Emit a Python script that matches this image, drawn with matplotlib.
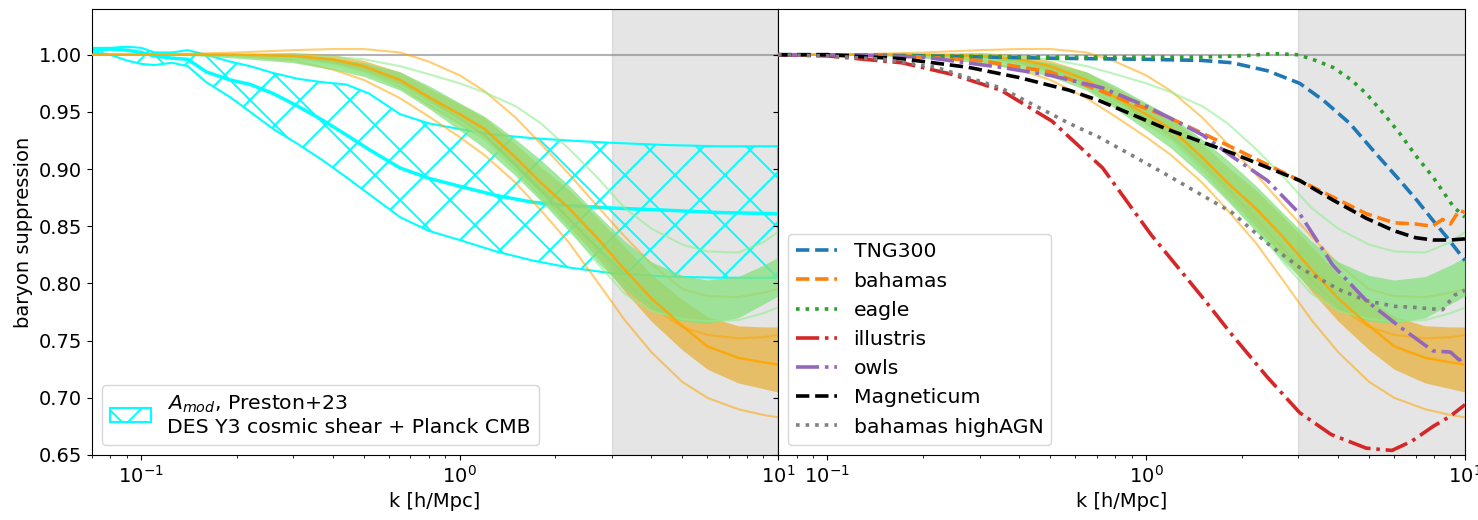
import numpy as np
import matplotlib
matplotlib.use('Agg')
import matplotlib.pyplot as plt
from matplotlib.backend_bases import GraphicsContextBase

# sparser hatch than the matplotlib default
_hatch_path = GraphicsContextBase.get_hatch_path
GraphicsContextBase.get_hatch_path = lambda self, density=4.0: _hatch_path(self, density)

# A_mod band, Preston+23
k_amod = [0.07, 0.08, 0.09, 0.1, 0.11, 0.125, 0.14, 0.16, 0.19, 0.22, 0.26, 0.31,
          0.37, 0.44, 0.52, 0.65, 0.8, 1.0, 1.3, 1.7, 2.2, 3.0, 4.5, 6.5, 10.0]
amod_hi = [1.006, 1.006, 1.007, 1.006, 1.002, 1.002, 1.004, 1.000, 0.994, 0.990, 0.984, 0.979,
           0.976, 0.974, 0.966, 0.948, 0.940, 0.935, 0.930, 0.927, 0.925, 0.923, 0.921, 0.920, 0.920]
amod_mid = [1.004, 1.005, 1.004, 1.002, 0.999, 0.997, 0.996, 0.985, 0.978, 0.974, 0.966, 0.955,
            0.943, 0.930, 0.917, 0.901, 0.892, 0.885, 0.877, 0.871, 0.868, 0.866, 0.864, 0.862, 0.861]
amod_lo = [1.002, 1.000, 0.995, 0.992, 0.991, 0.993, 0.990, 0.976, 0.963, 0.950, 0.935, 0.922,
           0.908, 0.893, 0.878, 0.858, 0.846, 0.838, 0.828, 0.820, 0.814, 0.809, 0.806, 0.805, 0.805]

# orange / green emulator bands
k_band = [0.07, 0.1, 0.15, 0.2, 0.3, 0.4, 0.5, 0.65, 0.8, 1.0, 1.2, 1.5, 1.8, 2.2,
          2.7, 3.3, 4.0, 5.0, 6.0, 7.5, 9.0, 10.0]
orange_mid = [1.0, 1.0, 1.0, 1.0, 0.999, 0.996, 0.99, 0.978, 0.963, 0.948, 0.935, 0.91, 0.888, 0.866,
              0.84, 0.812, 0.787, 0.763, 0.745, 0.735, 0.731, 0.729]
orange_hi = [1.0, 1.0, 1.0, 1.001, 1.002, 1.0, 0.995, 0.985, 0.971, 0.957, 0.945, 0.922, 0.902, 0.882,
             0.858, 0.832, 0.808, 0.786, 0.771, 0.763, 0.762, 0.762]
orange_lo = [1.0, 1.0, 1.0, 0.999, 0.996, 0.992, 0.985, 0.971, 0.955, 0.939, 0.925, 0.898, 0.874, 0.85,
             0.823, 0.793, 0.767, 0.742, 0.725, 0.713, 0.708, 0.705]
orange_runs = [
    [1.0, 1.0, 1.0, 0.999, 0.995, 0.987, 0.978, 0.962, 0.946, 0.928, 0.912, 0.888, 0.864, 0.836,
     0.802, 0.768, 0.74, 0.714, 0.700, 0.690, 0.685, 0.683],
    [1.0, 1.0, 1.001, 1.002, 1.004, 1.005, 1.005, 1.002, 0.994, 0.982, 0.968, 0.945, 0.922, 0.896,
     0.868, 0.841, 0.817, 0.795, 0.789, 0.788, 0.792, 0.795],
    [1.0, 1.0, 1.0, 1.0, 0.998, 0.994, 0.988, 0.976, 0.962, 0.944, 0.929, 0.905, 0.883, 0.857,
     0.83, 0.803, 0.78, 0.762, 0.755, 0.752, 0.753, 0.755],
]
green_mid = [1.0, 1.0, 1.0, 0.999, 0.996, 0.992, 0.987, 0.977, 0.963, 0.946, 0.932, 0.91, 0.89, 0.866,
             0.84, 0.816, 0.798, 0.787, 0.784, 0.788, 0.799, 0.806]
green_hi = [1.0, 1.0, 1.001, 1.001, 0.999, 0.997, 0.993, 0.985, 0.973, 0.958, 0.946, 0.926, 0.908, 0.886,
            0.861, 0.837, 0.819, 0.807, 0.803, 0.806, 0.816, 0.823]
green_lo = [1.0, 1.0, 0.999, 0.997, 0.993, 0.987, 0.981, 0.969, 0.953, 0.934, 0.918, 0.894, 0.872, 0.846,
            0.819, 0.795, 0.777, 0.767, 0.765, 0.77, 0.782, 0.789]
green_runs = [
    [1.0, 1.0, 1.0, 1.0, 1.0, 0.998, 0.996, 0.99, 0.983, 0.975, 0.967, 0.955, 0.94, 0.918,
     0.893, 0.866, 0.848, 0.834, 0.828, 0.827, 0.836, 0.845],
    [1.0, 1.0, 1.0, 0.999, 0.997, 0.991, 0.984, 0.973, 0.958, 0.942, 0.926, 0.9, 0.877, 0.849,
     0.818, 0.791, 0.776, 0.769, 0.767, 0.768, 0.774, 0.779],
]

# hydro simulations (right panel)
sims = {
    'TNG300': ([0.07, 0.1, 0.2, 0.5, 1.0, 1.5, 1.86, 2.4, 3.03, 3.6, 4.35, 5.2, 6.25, 7.1, 7.94, 8.8, 10.0],
               [1.0, 1.0, 0.999, 0.997, 0.996, 0.995, 0.993, 0.986, 0.975, 0.96, 0.94, 0.915, 0.89, 0.872,
                0.855, 0.84, 0.82]),
    'bahamas': ([0.07, 0.1, 0.2, 0.3, 0.5, 0.71, 1.16, 1.86, 3.03, 4.9, 6.0, 7.0, 7.9, 8.5, 9.0, 9.6, 10.0],
                [1.0, 1.0, 0.998, 0.995, 0.985, 0.969, 0.946, 0.919, 0.89, 0.861, 0.853, 0.852, 0.85,
                 0.856, 0.852, 0.864, 0.862]),
    'eagle': ([0.07, 0.2, 0.5, 1.0, 1.5, 2.0, 2.5, 3.0, 3.4, 3.85, 4.4, 4.9, 5.5, 6.25, 7.0, 7.94, 9.2, 10.0],
              [1.0, 0.999, 0.998, 0.998, 0.998, 0.999, 1.001, 1.0, 0.995, 0.989, 0.978, 0.966, 0.95,
               0.931, 0.912, 0.893, 0.867, 0.858]),
    'illustris': ([0.07, 0.1, 0.171, 0.245, 0.35, 0.506, 0.73, 1.04, 1.16, 1.5, 1.86, 2.4, 3.03, 3.8,
                   4.9, 5.9, 6.8, 7.94, 9.0, 10.0],
                  [1.0, 0.999, 0.993, 0.983, 0.969, 0.942, 0.901, 0.842, 0.826, 0.788, 0.755, 0.718, 0.687,
                   0.668, 0.656, 0.654, 0.662, 0.675, 0.684, 0.694]),
    'owls': ([0.07, 0.1, 0.2, 0.35, 0.5, 0.73, 1.0, 1.18, 1.5, 1.86, 2.4, 3.03, 3.85, 4.9, 6.25, 7.94,
              9.0, 9.6, 10.0],
             [1.0, 1.0, 0.998, 0.989, 0.982, 0.971, 0.955, 0.945, 0.93, 0.911, 0.89, 0.861, 0.816, 0.785,
              0.762, 0.741, 0.740, 0.733, 0.736]),
    'Magneticum': ([0.07, 0.1, 0.171, 0.277, 0.4, 0.573, 0.71, 1.16, 1.86, 3.03, 3.85, 4.9, 6.0, 7.0,
                    7.94, 9.0, 10.0],
                   [1.0, 1.0, 0.9965, 0.989, 0.98, 0.969, 0.96, 0.935, 0.914, 0.89, 0.873, 0.857, 0.846,
                    0.84, 0.838, 0.838, 0.839]),
    'bahamas highAGN': ([0.07, 0.1, 0.15, 0.219, 0.35, 0.573, 0.71, 0.93, 1.16, 1.86, 2.4, 3.03, 4.0,
                         4.9, 6.0, 7.0, 8.5, 9.3, 10.0],
                        [1.0, 0.999, 0.996, 0.989, 0.971, 0.94, 0.928, 0.91, 0.895, 0.862, 0.835, 0.814,
                         0.795, 0.785, 0.78, 0.779, 0.777, 0.79, 0.794]),
}
sim_styles = {
    'TNG300': ('tab:blue', '--'),
    'bahamas': ('tab:orange', '--'),
    'eagle': ('tab:green', ':'),
    'illustris': ('tab:red', '-.'),
    'owls': ('tab:purple', '-.'),
    'Magneticum': ('black', '--'),
    'bahamas highAGN': ('grey', ':'),
}

plt.rcParams['font.size'] = 14
plt.rcParams['hatch.linewidth'] = 1.4

fig = plt.figure(figsize=(14.78, 5.2), dpi=100)
ax1 = fig.add_axes([0.0622, 0.125, 0.4642, 0.8577])
ax2 = fig.add_axes([0.5264, 0.125, 0.4648, 0.8577], sharey=ax1)


def draw_bands(ax):
    ax.axvspan(3, 10, color='grey', alpha=0.2, zorder=0)
    ax.axhline(1.0, color='grey', alpha=0.6, lw=1.5, zorder=1)
    ax.fill_between(k_band, orange_lo, orange_hi, color='#e69f00', alpha=0.55, lw=0, zorder=2)
    for run in orange_runs:
        ax.plot(k_band, run, color='orange', alpha=0.55, lw=1.5, zorder=2)
    ax.fill_between(k_band, green_lo, green_hi, color='#86e07e', alpha=0.75, lw=0, zorder=3)
    for run in green_runs:
        ax.plot(k_band, run, color='lightgreen', alpha=0.6, lw=1.5, zorder=3)
    ax.plot(k_band, orange_mid, color='orange', lw=1.8, alpha=0.85, zorder=3.5)


# left panel
ax1.fill_between(k_amod, amod_lo, amod_hi, facecolor='none', edgecolor='cyan', hatch='x',
                 lw=1.5, zorder=1.5,
                 label='$A_{mod}$, Preston+23\nDES Y3 cosmic shear + Planck CMB')
ax1.plot(k_amod, amod_mid, color='cyan', lw=2.5, zorder=1.5)
draw_bands(ax1)
ax1.legend(loc='lower left', fontsize=14.7)

# right panel
draw_bands(ax2)
for name, (k, v) in sims.items():
    c, ls = sim_styles[name]
    ax2.plot(k, v, color=c, ls=ls, lw=2.6, label=name, zorder=4)
ax2.legend(loc='lower left', fontsize=14.7)

for ax in (ax1, ax2):
    ax.set_xscale('log')
    ax.set_xlim(0.07, 10)
    ax.set_xlabel('k [h/Mpc]')
ax1.set_ylim(0.65, 1.04)
ax1.set_yticks([0.65, 0.70, 0.75, 0.80, 0.85, 0.90, 0.95, 1.00])
ax1.set_ylabel('baryon suppression')
ax2.tick_params(labelleft=False)

plt.savefig('out.png', dpi=100)
plt.close()
